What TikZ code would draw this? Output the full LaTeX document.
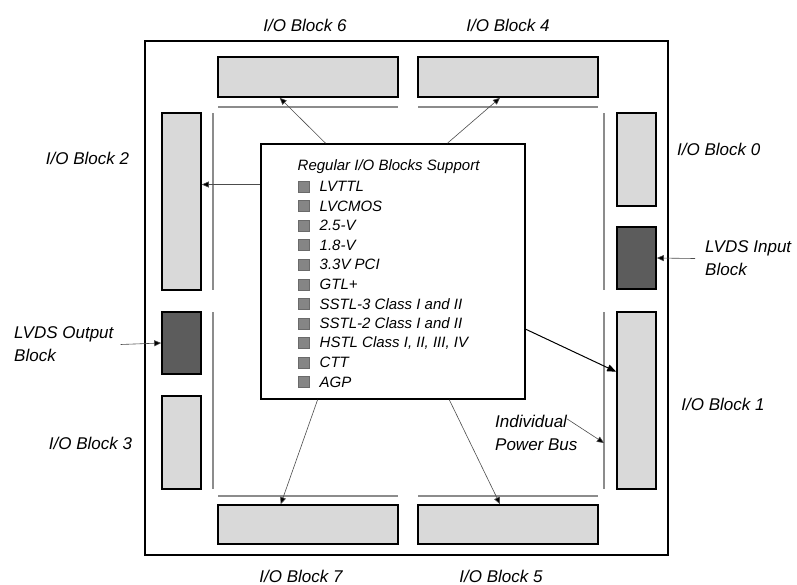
\documentclass[tikz,border=0pt]{standalone}
\usepackage{fontspec}
\setmainfont{Liberation Sans}
\usetikzlibrary{arrows.meta,calc}
\definecolor{iolight}{gray}{0.85}
\definecolor{iodark}{gray}{0.36}
\definecolor{sqgray}{gray}{0.52}
\definecolor{busgray}{gray}{0.55}
\begin{document}
\begin{tikzpicture}[x=1pt,y=-1pt,
  blk/.style 2 args={draw,line width=1.6pt,fill=iolight,inner sep=0pt,minimum width=#1,minimum height=#2},
  dblk/.style 2 args={blk={#1}{#2},fill=iodark},
  lab/.style={font=\fontsize{17}{23}\selectfont\itshape,inner sep=0pt,align=left},
  ctext/.style={font=\fontsize{15}{17}\selectfont\itshape,inner sep=0pt},
  sq/.style={fill=sqgray,draw=sqgray!80!black,line width=0.4pt,minimum size=11,inner sep=0pt},
  bus/.style={draw=busgray,line width=1.8pt},
  conn/.style={draw=black!70,line width=0.6pt,-{Triangle[length=7,width=6,fill=black]}},
  connb/.style={draw=black,line width=1pt,-{Triangle[length=9,width=7]}}
]
\useasboundingbox (0,0) rectangle (797,584);

% outer die
\draw[line width=1.8pt] (145,41) rectangle (668,555);

% I/O blocks
\node[blk={180}{40}] (b6) at (308,77) {};
\node[blk={180}{40}] (b4) at (508,77) {};
\node[blk={180}{39}] (b7) at (308,524.5) {};
\node[blk={180}{39}] (b5) at (508,524.5) {};
\node[blk={39}{177}] (b2) at (181.5,201.5) {};
\node[dblk={39}{62}] (lvdso) at (181.5,343) {};
\node[blk={39}{93}] (b3) at (181.5,442.5) {};
\node[blk={39}{93}] (b0) at (636.5,159.5) {};
\node[dblk={39}{62}] (lvdsi) at (636.5,258) {};
\node[blk={39}{177}] (b1) at (636.5,400.5) {};

% power buses
\draw[bus] (218,107) -- (398,107);
\draw[bus] (418,107) -- (598,107);
\draw[bus] (218,496) -- (398,496);
\draw[bus] (418,496) -- (598,496);
\draw[bus] (213,113) -- (213,290);
\draw[bus] (213,312) -- (213,489);
\draw[bus] (604,113) -- (604,290);
\draw[bus] (604,312) -- (604,489);
\coordinate (busr) at (604,443);

% central box
\node[draw,line width=1.6pt,fill=white,inner sep=0pt,minimum width=264,minimum height=255] (cen) at (393,271.5) {};
\node[ctext,anchor=west] (title) at (297.5,167) {Regular I/O Blocks Support};
\foreach \t [count=\i] in {LVTTL,LVCMOS,2.5-V,1.8-V,3.3V PCI,GTL+,SSTL-3 Class I and II,SSTL-2 Class I and II,{HSTL Class I, II, III, IV},CTT,AGP}{
  \node[sq] (sq\i) at (303.5,{186.5+(\i-1)*19.55}) {};
  \node[ctext,anchor=west] (it\i) at (319.5,{186.5+(\i-1)*19.55}) {\t};
}

% labels
\node[lab] (t6) at (305,25) {I/O Block 6};
\node[lab] (t4) at (508,25) {I/O Block 4};
\node[lab,anchor=west] (t0) at (677,149) {I/O Block 0};
\node[lab,anchor=west] (li) at (705,258.5) {LVDS Input\\Block};
\node[lab] (t2) at (87.5,158) {I/O Block 2};
\node[lab,anchor=west] (lo) at (14,344.5) {LVDS Output\\Block};
\node[lab] (t3) at (90.5,443) {I/O Block 3};
\node[lab] (t1) at (723,404) {I/O Block 1};
\node[lab,anchor=west] (pb1) at (495,421) {Individual};
\node[lab,anchor=west] (pb2) at (495,445) {Power Bus};
\node[lab] (t7) at (301,576) {I/O Block 7};
\node[lab] (t5) at (501,576) {I/O Block 5};

% connectors from central box
\draw[conn] ($(cen.north west)!0.246!(cen.north east)$) -- ($(b6.south west)!0.344!(b6.south east)$);
\draw[conn] ($(cen.north west)!0.705!(cen.north east)$) -- ($(b4.south west)!0.456!(b4.south east)$);
\draw[conn] ($(cen.south west)!0.216!(cen.south east)$) -- ($(b7.north west)!0.35!(b7.north east)$);
\draw[conn] ($(cen.south west)!0.712!(cen.south east)$) -- ($(b5.north west)!0.456!(b5.north east)$);
\coordinate (cl) at ($(cen.north west)!0.161!(cen.south west)$);
\draw[conn] (cl) -- (b2.east |- cl);
\draw[connb] ($(cen.north east)!0.725!(cen.south east)$) -- ($(b1.north west)!0.339!(b1.south west)$);

% label arrows
\draw[conn] ([xshift=-10pt]li.west) -- (lvdsi.east);
\draw[conn] ([xshift=7pt]lo.east) -- (lvdso.west);
\draw[conn] ([yshift=2pt]pb1.east) -- (busr);
\end{tikzpicture}
\end{document}
